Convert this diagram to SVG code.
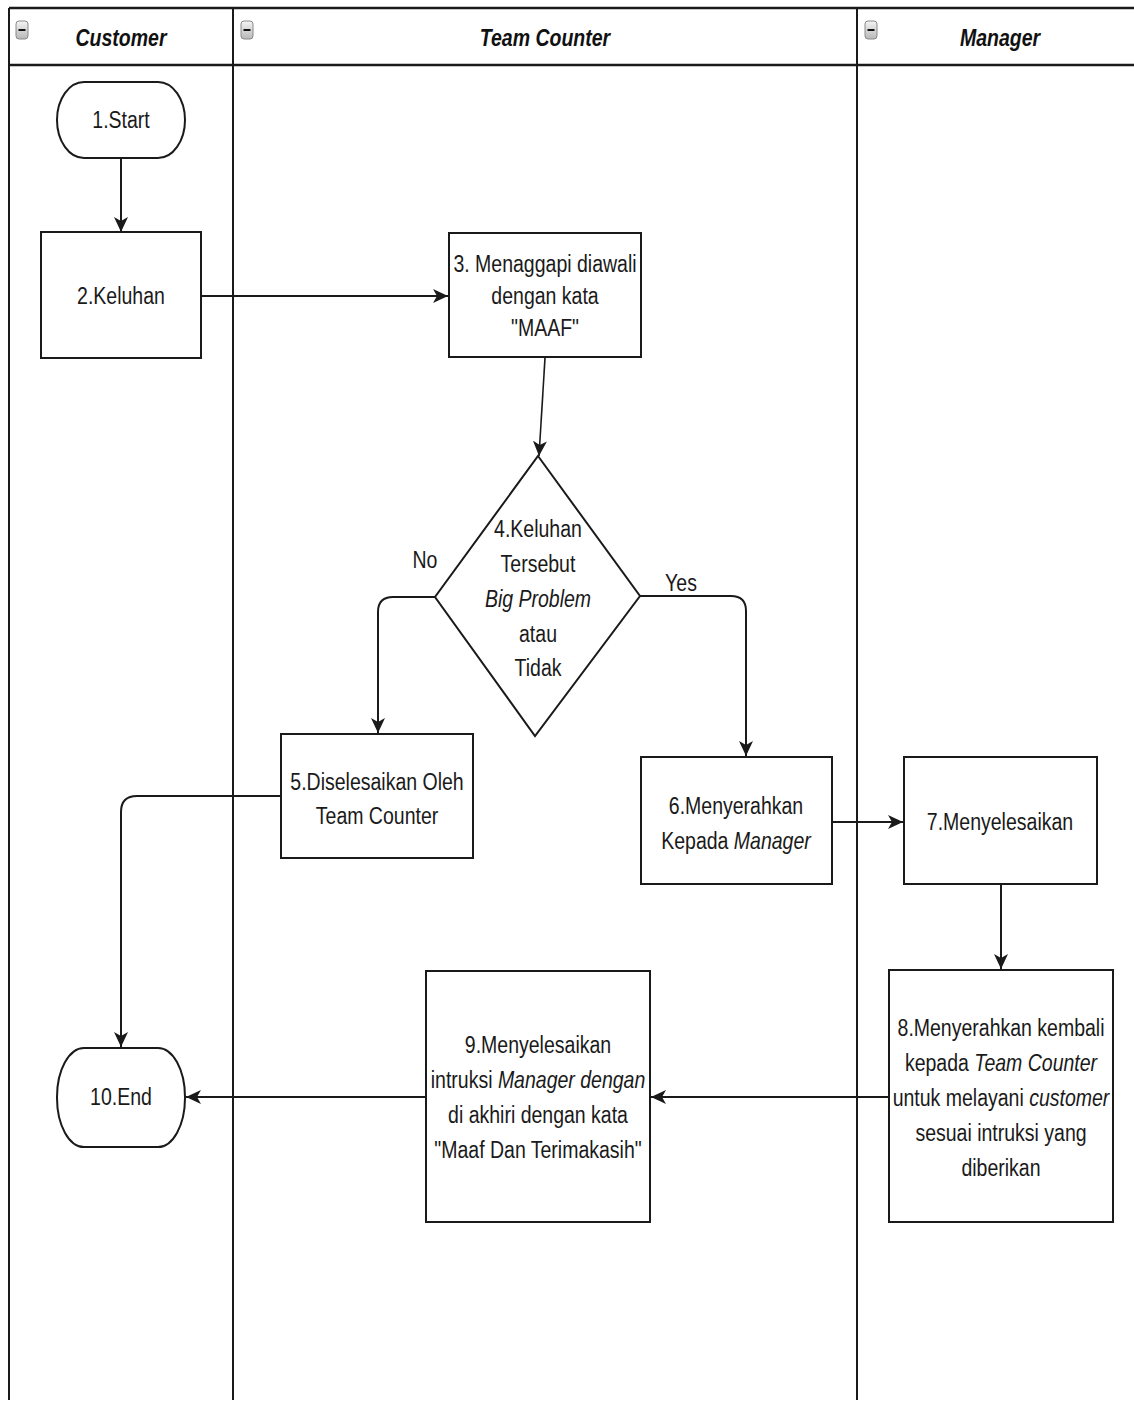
<svg xmlns="http://www.w3.org/2000/svg" width="1134" height="1403" viewBox="0 0 1134 1403">
<style>
.lane{stroke:#1a1a1a;stroke-width:2;fill:none}
.hline{stroke:#1a1a1a;stroke-width:2.6;fill:none}
.node{fill:#ffffff;stroke:#1a1a1a;stroke-width:2}
.conn{fill:none;stroke:#1a1a1a;stroke-width:2}
.t{font-family:"Liberation Sans",Arial,sans-serif;font-size:19.5px;fill:#1a1a1a;text-anchor:middle;dominant-baseline:central}
.h{font-family:"Liberation Sans",Arial,sans-serif;font-size:19.5px;font-weight:bold;font-style:italic;fill:#111;text-anchor:middle;dominant-baseline:central}
.i{font-style:italic}
.icon{fill:url(#ig);stroke:#8a8a8a;stroke-width:1}
.minus{stroke:#111;stroke-width:2}
</style>
<defs>
<linearGradient id="ig" x1="0" y1="0" x2="0" y2="1">
<stop offset="0" stop-color="#f4f4f4"/>
<stop offset="1" stop-color="#b8b8b8"/>
</linearGradient>
<marker id="arr" markerUnits="userSpaceOnUse" markerWidth="18" markerHeight="16" refX="15" refY="7" orient="auto">
<path d="M0,0 L15,7 L0,14 L4,7 Z" fill="#1a1a1a"/>
</marker>
</defs>
<rect x="0" y="0" width="1134" height="1403" fill="#ffffff"/>
<g id="pool">
<line class="hline" x1="9" y1="8" x2="1134" y2="8"/>
<line class="hline" x1="9" y1="65" x2="1134" y2="65"/>
<line class="lane" x1="9" y1="8" x2="9" y2="1400"/>
<line class="lane" x1="233" y1="8" x2="233" y2="1400"/>
<line class="lane" x1="857" y1="8" x2="857" y2="1400"/>
</g>
<g id="lane-customer">
<rect class="icon" x="16" y="21" width="12" height="18" rx="3"/>
<line class="minus" x1="18.5" y1="30" x2="25.5" y2="30"/>
<g transform="translate(121,38) scale(1,1.25)"><text class="h" x="0" y="0">Customer</text></g>
</g>
<g id="lane-team-counter">
<rect class="icon" x="241" y="21" width="12" height="18" rx="3"/>
<line class="minus" x1="243.5" y1="30" x2="250.5" y2="30"/>
<g transform="translate(545,38) scale(1,1.25)"><text class="h" x="0" y="0">Team Counter</text></g>
</g>
<g id="lane-manager">
<rect class="icon" x="865" y="21" width="12" height="18" rx="3"/>
<line class="minus" x1="867.5" y1="30" x2="874.5" y2="30"/>
<g transform="translate(1000,38) scale(1,1.25)"><text class="h" x="0" y="0">Manager</text></g>
</g>
<g id="connectors">
<path class="conn" d="M121,158 V232" marker-end="url(#arr)"/>
<path class="conn" d="M201,296 H448" marker-end="url(#arr)"/>
<path class="conn" d="M545,358 L539,456" marker-end="url(#arr)" style="stroke-width:1.6"/>
<path class="conn" d="M435,597 H393 Q378,597 378,612 V733" marker-end="url(#arr)"/>
<path class="conn" d="M640,596 H731 Q746,596 746,611 V756" marker-end="url(#arr)"/>
<path class="conn" d="M832,822 H903" marker-end="url(#arr)"/>
<path class="conn" d="M1001,884 V969" marker-end="url(#arr)"/>
<path class="conn" d="M889,1097 H651" marker-end="url(#arr)"/>
<path class="conn" d="M426,1097 H186" marker-end="url(#arr)"/>
<path class="conn" d="M281,796 H137 Q121,796 121,812 V1047" marker-end="url(#arr)"/>
<g transform="translate(425,560) scale(1,1.25)"><text class="t" x="0" y="0">No</text></g>
<g transform="translate(681,583) scale(1,1.25)"><text class="t" x="0" y="0">Yes</text></g>
</g>
<g id="n1">
<rect class="node" x="57" y="82" width="128" height="76" rx="27" ry="38"/>
<g transform="translate(121,120) scale(1,1.25)"><text class="t" x="0" y="0">1.Start</text></g>
</g>
<g id="n2">
<rect class="node" x="41" y="232" width="160" height="126"/>
<g transform="translate(121,296) scale(1,1.25)"><text class="t" x="0" y="0">2.Keluhan</text></g>
</g>
<g id="n3">
<rect class="node" x="449" y="233" width="192" height="124"/>
<g transform="translate(545,295) scale(1,1.25)"><text class="t"><tspan x="0" y="-25.6">3. Menaggapi diawali</tspan><tspan x="0" y="0">dengan kata</tspan><tspan x="0" y="25.6">"MAAF"</tspan></text></g>
</g>
<g id="n4">
<polygon class="node" points="538,456 640,596 535,736 435,597"/>
<g transform="translate(538,598) scale(1,1.25)"><text class="t"><tspan x="0" y="-55.6">4.Keluhan</tspan><tspan x="0" y="-27.8">Tersebut</tspan><tspan x="0" y="0" class="i">Big Problem</tspan><tspan x="0" y="27.8">atau</tspan><tspan x="0" y="55.6">Tidak</tspan></text></g>
</g>
<g id="n5">
<rect class="node" x="281" y="734" width="192" height="124"/>
<g transform="translate(377,798) scale(1,1.25)"><text class="t"><tspan x="0" y="-13.6">5.Diselesaikan Oleh</tspan><tspan x="0" y="13.6">Team Counter</tspan></text></g>
</g>
<g id="n6">
<rect class="node" x="641" y="757" width="191" height="127"/>
<g transform="translate(736,823) scale(1,1.25)"><text class="t"><tspan x="0" y="-14">6.Menyerahkan</tspan><tspan x="0" y="14">Kepada <tspan class="i">Manager</tspan></tspan></text></g>
</g>
<g id="n7">
<rect class="node" x="904" y="757" width="193" height="127"/>
<g transform="translate(1000,822) scale(1,1.25)"><text class="t" x="0" y="0">7.Menyelesaikan</text></g>
</g>
<g id="n8">
<rect class="node" x="889" y="970" width="224" height="252"/>
<g transform="translate(1001,1097) scale(1,1.25)"><text class="t"><tspan x="0" y="-56">8.Menyerahkan kembali</tspan><tspan x="0" y="-28">kepada <tspan class="i">Team Counter</tspan></tspan><tspan x="0" y="0">untuk melayani <tspan class="i">customer</tspan></tspan><tspan x="0" y="28">sesuai intruksi yang</tspan><tspan x="0" y="56">diberikan</tspan></text></g>
</g>
<g id="n9">
<rect class="node" x="426" y="971" width="224" height="251"/>
<g transform="translate(538,1097) scale(1,1.25)"><text class="t"><tspan x="0" y="-42">9.Menyelesaikan</tspan><tspan x="0" y="-14">intruksi <tspan class="i">Manager dengan</tspan></tspan><tspan x="0" y="14">di akhiri dengan kata</tspan><tspan x="0" y="42">"Maaf Dan Terimakasih"</tspan></text></g>
</g>
<g id="n10">
<rect class="node" x="57" y="1048" width="128" height="99" rx="27" ry="49"/>
<g transform="translate(121,1097) scale(1,1.25)"><text class="t" x="0" y="0">10.End</text></g>
</g>
</svg>
